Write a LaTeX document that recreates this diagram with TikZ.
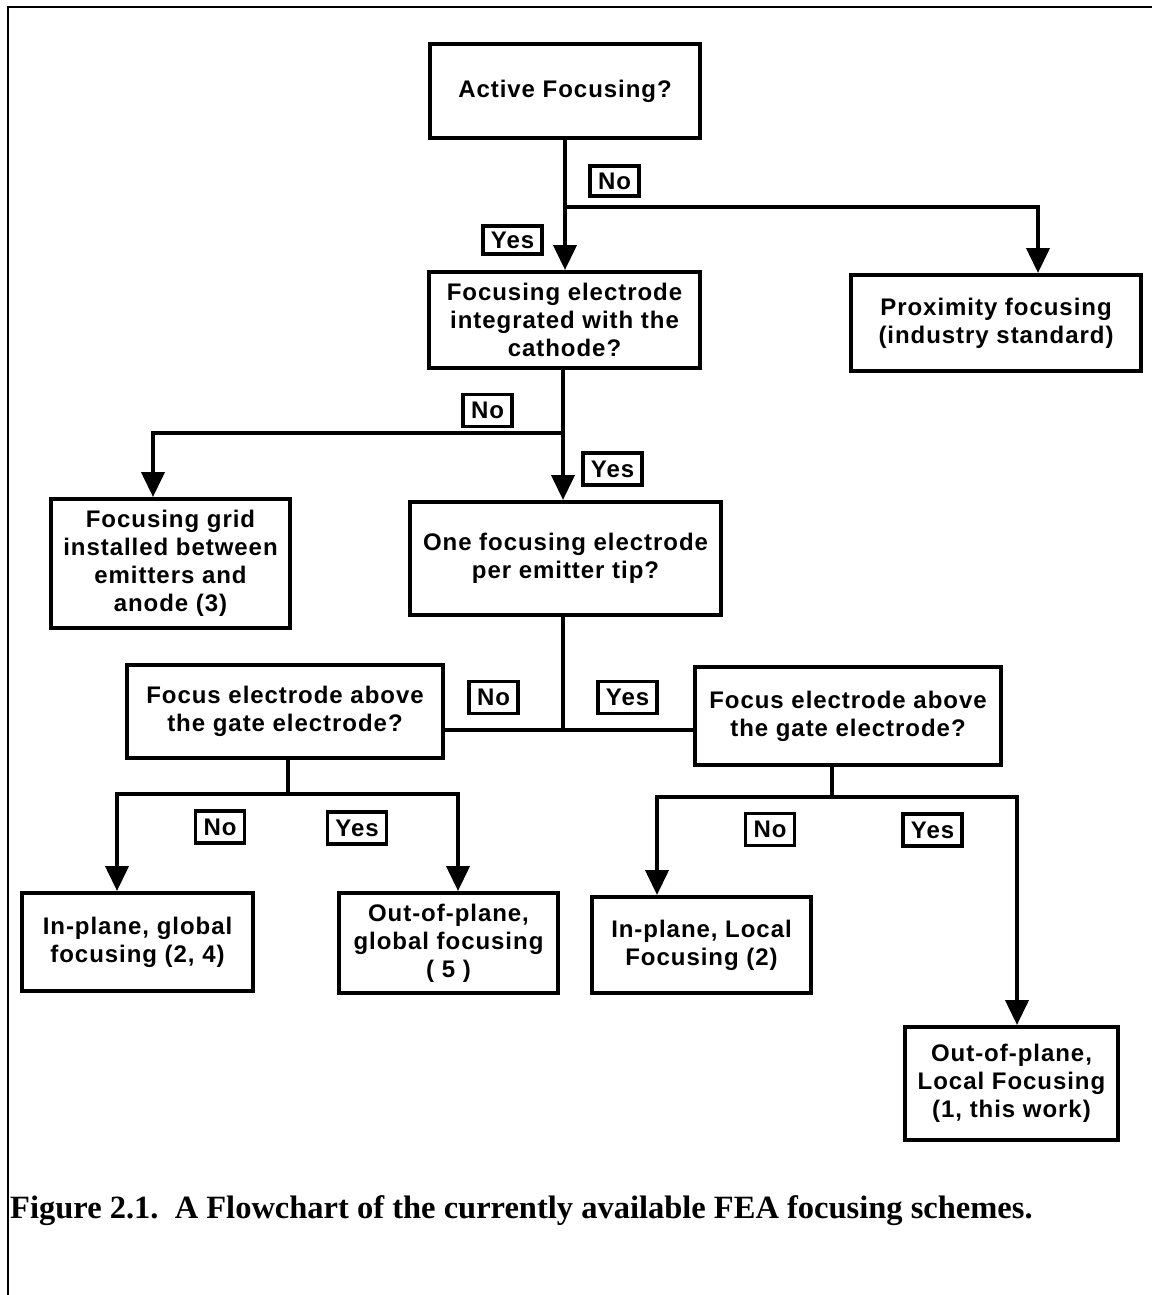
\documentclass[tikz,border=0pt]{standalone}
\usepackage{fontspec}
\newfontfamily\boxfont[LetterSpace=4]{Liberation Sans}
\newfontfamily\capfont{Liberation Serif}
\usetikzlibrary{arrows.meta,calc}
\tikzset{
  box/.style={draw, line width=4pt, align=center, inner sep=0pt,
    font=\boxfont\bfseries\fontsize{24}{28}\selectfont},
  lbl/.style={draw, line width=3.5pt, inner xsep=8pt, inner ysep=0pt, minimum height=32pt,
    font=\boxfont\bfseries\fontsize{24}{28}\selectfont},
  conn/.style={line width=4pt, line cap=rect},
  arr/.style={line width=4pt, -{Triangle[length=25pt,width=23pt]}},
}
\begin{document}
\begin{tikzpicture}[x=1pt,y=-1pt]
\useasboundingbox (0,0) rectangle (1152,1295);
\draw[line width=2pt] (8,1295) -- (8,7) -- (1152,7);

% boxes
\node[box, minimum width=270pt, minimum height=94pt] (act) at (565,91) {Active Focusing?};
\node[box, minimum width=271pt, minimum height=96pt] (integ) at (564.5,320) {Focusing electrode\\integrated with the\\cathode?};
\node[box, minimum width=290pt, minimum height=96pt] (prox) at (996,323) {Proximity focusing\\(industry standard)};
\node[box, minimum width=239pt, minimum height=129pt] (grid) at (170.5,563.5) {Focusing grid\\installed between\\emitters and\\anode (3)};
\node[box, minimum width=311pt, minimum height=113pt] (one) at (565.5,558.5) {One focusing electrode\\per emitter tip?};
\node[box, minimum width=316pt, minimum height=93pt] (lf) at (285,711.5) {Focus electrode above\\the gate electrode?};
\node[box, minimum width=306pt, minimum height=98pt] (rf) at (848,716) {Focus electrode above\\the gate electrode?};
\node[box, minimum width=231pt, minimum height=98pt] (ipg) at (137.5,942) {In-plane, global\\focusing (2, 4)};
\node[box, minimum width=219pt, minimum height=100pt] (opg) at (448.5,943) {Out-of-plane,\\global focusing\\( 5 )};
\node[box, minimum width=219pt, minimum height=96pt] (ipl) at (701.5,945) {In-plane, Local\\Focusing (2)};
\node[box, minimum width=213pt, minimum height=113pt] (opl) at (1011.5,1083.5) {Out-of-plane,\\Local Focusing\\(1, this work)};

% labels
\node[lbl, minimum height=30pt] (n1) at (614.5,181) {No};
\node[lbl, minimum height=28pt] (y1) at (512.5,240) {Yes};
\node[lbl] (n2) at (487.5,410.5) {No};
\node[lbl] (y2) at (612.5,469) {Yes};
\node[lbl] (n3) at (493.5,697.5) {No};
\node[lbl] (y3) at (627.5,697.5) {Yes};
\node[lbl] (n4) at (220,827) {No};
\node[lbl] (y4) at (357,828) {Yes};
\node[lbl] (n5) at (770,829.5) {No};
\node[lbl] (y5) at (932.5,830) {Yes};

% connectors level 1
\coordinate (j1) at (565,207);
\coordinate (p1) at (1038,207);
\draw[arr] (act.south) -- (act.south |- integ.north);
\draw[conn] (j1) -- (p1);
\draw[arr] (p1) -- (p1 |- prox.north);

% level 2
\coordinate (j2) at (563,433);
\coordinate (g1) at (153,433);
\draw[arr] (j2 |- integ.south) -- (j2 |- one.north);
\draw[conn] (j2) -- (g1);
\draw[arr] (g1) -- (g1 |- grid.north);

% level 3
\coordinate (j3) at (563,730);
\draw[conn] (j3 |- one.south) -- (j3);
\draw[conn] (lf.east |- j3) -- (rf.west |- j3);

% level 4
\coordinate (j4) at (288,794);
\coordinate (a4l) at (117,794);
\coordinate (a4r) at (458,794);
\draw[conn] (j4 |- lf.south) -- (j4);
\draw[conn] (a4l) -- (a4r);
\draw[arr] (a4l) -- (a4l |- ipg.north);
\draw[arr] (a4r) -- (a4r |- opg.north);

% level 5
\coordinate (j5) at (832,797);
\coordinate (a5l) at (657,797);
\coordinate (a5r) at (1017,797);
\draw[conn] (j5 |- rf.south) -- (j5);
\draw[conn] (a5l) -- (a5r);
\draw[arr] (a5l) -- (a5l |- ipl.north);
\draw[arr] (a5r) -- (a5r |- opl.north);

% caption
\node[anchor=base west, inner sep=0pt, font=\capfont\bfseries\fontsize{32.5}{36}\selectfont] (cap) at (10,1218) {Figure 2.1.\hspace{0.5em}A Flowchart of the currently available FEA focusing schemes.};
\end{tikzpicture}
\end{document}
